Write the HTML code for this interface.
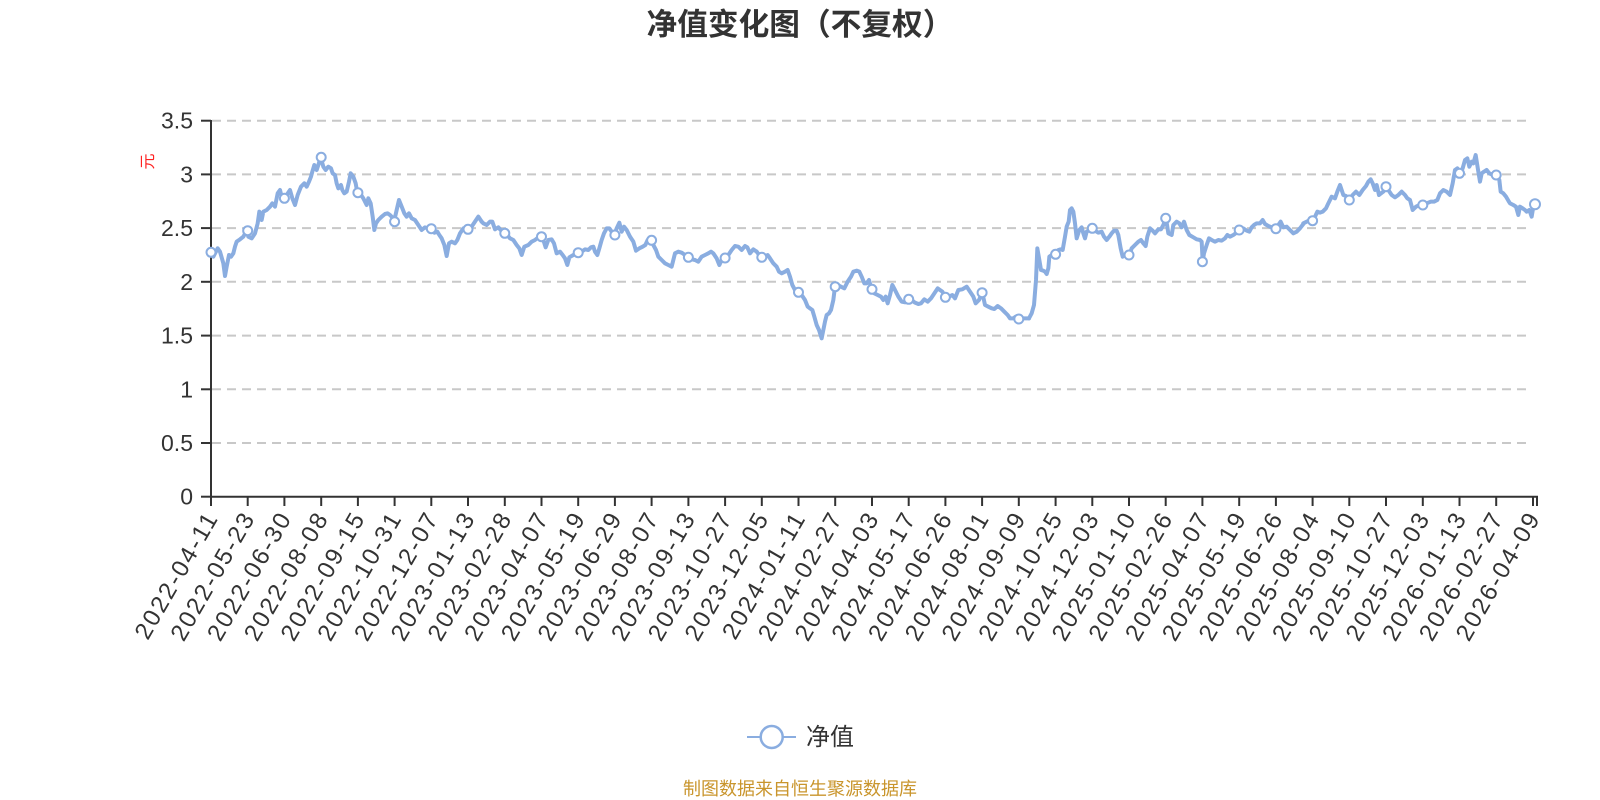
<!DOCTYPE html>
<html>
<head>
<meta charset="utf-8">
<style>
  html,body{margin:0;padding:0;background:#fff;}
  body{width:1600px;height:800px;overflow:hidden;}
  svg{display:block;}
  .cjk{font-family:"Liberation Sans","Noto Sans CJK SC",sans-serif;}
  .num{font-family:"Liberation Sans","Noto Sans CJK SC",sans-serif;font-size:22px;fill:#333;}
  .xl{font-family:"Liberation Sans","Noto Sans CJK SC",sans-serif;font-size:24px;fill:#333;letter-spacing:2.2px;}
  .ln{fill:none;stroke:#8aade0;stroke-width:12;stroke-linejoin:round;stroke-linecap:round;}
</style>
</head>
<body>
<svg width="1600" height="800" viewBox="0 0 1600 800" xmlns="http://www.w3.org/2000/svg">
  <rect width="1600" height="800" fill="#fff"/>
  <!-- Title -->
  <text x="800" y="35" text-anchor="middle" class="cjk" font-size="30.7" font-weight="bold" fill="#333">净值变化图（不复权）</text>

  <!-- grid lines -->
  <g stroke="#c8c8c8" stroke-width="2" stroke-dasharray="9 6">
    <line x1="212" y1="443.0" x2="1531" y2="443.0"/>
    <line x1="212" y1="389.3" x2="1531" y2="389.3"/>
    <line x1="212" y1="335.6" x2="1531" y2="335.6"/>
    <line x1="212" y1="281.8" x2="1531" y2="281.8"/>
    <line x1="212" y1="228.1" x2="1531" y2="228.1"/>
    <line x1="212" y1="174.4" x2="1531" y2="174.4"/>
    <line x1="212" y1="120.7" x2="1531" y2="120.7"/>
  </g>

  <!-- y axis -->
  <g stroke="#333" stroke-width="2">
    <line x1="211" y1="120" x2="211" y2="497.7"/>
    <line x1="201" y1="496.7" x2="211" y2="496.7"/>
    <line x1="201" y1="443.0" x2="211" y2="443.0"/>
    <line x1="201" y1="389.3" x2="211" y2="389.3"/>
    <line x1="201" y1="335.6" x2="211" y2="335.6"/>
    <line x1="201" y1="281.8" x2="211" y2="281.8"/>
    <line x1="201" y1="228.1" x2="211" y2="228.1"/>
    <line x1="201" y1="174.4" x2="211" y2="174.4"/>
    <line x1="201" y1="120.7" x2="211" y2="120.7"/>
  </g>
  <g class="num" text-anchor="end" style="font-size:23px">
    <text x="193" y="504.7">0</text>
    <text x="193" y="451.0">0.5</text>
    <text x="193" y="397.3">1</text>
    <text x="193" y="343.6">1.5</text>
    <text x="193" y="289.8">2</text>
    <text x="193" y="236.1">2.5</text>
    <text x="193" y="182.4">3</text>
    <text x="193" y="128.7">3.5</text>
  </g>
  <text transform="translate(148.5,161.5) rotate(-90)" text-anchor="middle" dominant-baseline="central" class="cjk" font-size="16" fill="#f22">元</text>

  <!-- x axis -->
  <line x1="210" y1="496.7" x2="1538" y2="496.7" stroke="#333" stroke-width="2"/>
  <g stroke="#333" stroke-width="2">
    <line x1="211.0" y1="496.7" x2="211.0" y2="506"/>
    <line x1="247.7" y1="496.7" x2="247.7" y2="506"/>
    <line x1="284.4" y1="496.7" x2="284.4" y2="506"/>
    <line x1="321.2" y1="496.7" x2="321.2" y2="506"/>
    <line x1="357.9" y1="496.7" x2="357.9" y2="506"/>
    <line x1="394.6" y1="496.7" x2="394.6" y2="506"/>
    <line x1="431.3" y1="496.7" x2="431.3" y2="506"/>
    <line x1="468.0" y1="496.7" x2="468.0" y2="506"/>
    <line x1="504.8" y1="496.7" x2="504.8" y2="506"/>
    <line x1="541.5" y1="496.7" x2="541.5" y2="506"/>
    <line x1="578.2" y1="496.7" x2="578.2" y2="506"/>
    <line x1="614.9" y1="496.7" x2="614.9" y2="506"/>
    <line x1="651.6" y1="496.7" x2="651.6" y2="506"/>
    <line x1="688.4" y1="496.7" x2="688.4" y2="506"/>
    <line x1="725.1" y1="496.7" x2="725.1" y2="506"/>
    <line x1="761.8" y1="496.7" x2="761.8" y2="506"/>
    <line x1="798.5" y1="496.7" x2="798.5" y2="506"/>
    <line x1="835.2" y1="496.7" x2="835.2" y2="506"/>
    <line x1="872.0" y1="496.7" x2="872.0" y2="506"/>
    <line x1="908.7" y1="496.7" x2="908.7" y2="506"/>
    <line x1="945.4" y1="496.7" x2="945.4" y2="506"/>
    <line x1="982.1" y1="496.7" x2="982.1" y2="506"/>
    <line x1="1018.8" y1="496.7" x2="1018.8" y2="506"/>
    <line x1="1055.6" y1="496.7" x2="1055.6" y2="506"/>
    <line x1="1092.3" y1="496.7" x2="1092.3" y2="506"/>
    <line x1="1129.0" y1="496.7" x2="1129.0" y2="506"/>
    <line x1="1165.7" y1="496.7" x2="1165.7" y2="506"/>
    <line x1="1202.4" y1="496.7" x2="1202.4" y2="506"/>
    <line x1="1239.2" y1="496.7" x2="1239.2" y2="506"/>
    <line x1="1275.9" y1="496.7" x2="1275.9" y2="506"/>
    <line x1="1312.6" y1="496.7" x2="1312.6" y2="506"/>
    <line x1="1349.3" y1="496.7" x2="1349.3" y2="506"/>
    <line x1="1386.0" y1="496.7" x2="1386.0" y2="506"/>
    <line x1="1422.8" y1="496.7" x2="1422.8" y2="506"/>
    <line x1="1459.5" y1="496.7" x2="1459.5" y2="506"/>
    <line x1="1496.2" y1="496.7" x2="1496.2" y2="506"/>
    <line x1="1533.0" y1="496.7" x2="1533.0" y2="506"/>
    <line x1="1537.0" y1="496.7" x2="1537.0" y2="506"/>
  </g>
  <g class="xl" text-anchor="end">
    <text transform="translate(212.0,513) rotate(-60)" dy="0.35em">2022-04-11</text>
    <text transform="translate(248.7,513) rotate(-60)" dy="0.35em">2022-05-23</text>
    <text transform="translate(285.4,513) rotate(-60)" dy="0.35em">2022-06-30</text>
    <text transform="translate(322.2,513) rotate(-60)" dy="0.35em">2022-08-08</text>
    <text transform="translate(358.9,513) rotate(-60)" dy="0.35em">2022-09-15</text>
    <text transform="translate(395.6,513) rotate(-60)" dy="0.35em">2022-10-31</text>
    <text transform="translate(432.3,513) rotate(-60)" dy="0.35em">2022-12-07</text>
    <text transform="translate(469.0,513) rotate(-60)" dy="0.35em">2023-01-13</text>
    <text transform="translate(505.8,513) rotate(-60)" dy="0.35em">2023-02-28</text>
    <text transform="translate(542.5,513) rotate(-60)" dy="0.35em">2023-04-07</text>
    <text transform="translate(579.2,513) rotate(-60)" dy="0.35em">2023-05-19</text>
    <text transform="translate(615.9,513) rotate(-60)" dy="0.35em">2023-06-29</text>
    <text transform="translate(652.6,513) rotate(-60)" dy="0.35em">2023-08-07</text>
    <text transform="translate(689.4,513) rotate(-60)" dy="0.35em">2023-09-13</text>
    <text transform="translate(726.1,513) rotate(-60)" dy="0.35em">2023-10-27</text>
    <text transform="translate(762.8,513) rotate(-60)" dy="0.35em">2023-12-05</text>
    <text transform="translate(799.5,513) rotate(-60)" dy="0.35em">2024-01-11</text>
    <text transform="translate(836.2,513) rotate(-60)" dy="0.35em">2024-02-27</text>
    <text transform="translate(873.0,513) rotate(-60)" dy="0.35em">2024-04-03</text>
    <text transform="translate(909.7,513) rotate(-60)" dy="0.35em">2024-05-17</text>
    <text transform="translate(946.4,513) rotate(-60)" dy="0.35em">2024-06-26</text>
    <text transform="translate(983.1,513) rotate(-60)" dy="0.35em">2024-08-01</text>
    <text transform="translate(1019.8,513) rotate(-60)" dy="0.35em">2024-09-09</text>
    <text transform="translate(1056.6,513) rotate(-60)" dy="0.35em">2024-10-25</text>
    <text transform="translate(1093.3,513) rotate(-60)" dy="0.35em">2024-12-03</text>
    <text transform="translate(1130.0,513) rotate(-60)" dy="0.35em">2025-01-10</text>
    <text transform="translate(1166.7,513) rotate(-60)" dy="0.35em">2025-02-26</text>
    <text transform="translate(1203.4,513) rotate(-60)" dy="0.35em">2025-04-07</text>
    <text transform="translate(1240.2,513) rotate(-60)" dy="0.35em">2025-05-19</text>
    <text transform="translate(1276.9,513) rotate(-60)" dy="0.35em">2025-06-26</text>
    <text transform="translate(1313.6,513) rotate(-60)" dy="0.35em">2025-08-04</text>
    <text transform="translate(1350.3,513) rotate(-60)" dy="0.35em">2025-09-10</text>
    <text transform="translate(1387.0,513) rotate(-60)" dy="0.35em">2025-10-27</text>
    <text transform="translate(1423.8,513) rotate(-60)" dy="0.35em">2025-12-03</text>
    <text transform="translate(1460.5,513) rotate(-60)" dy="0.35em">2026-01-13</text>
    <text transform="translate(1497.2,513) rotate(-60)" dy="0.35em">2026-02-27</text>
    <text transform="translate(1534.0,513) rotate(-60)" dy="0.35em">2026-04-09</text>
  </g>

  <!-- series line -->
  <g transform="translate(205,140) scale(0.333333)">
    <polyline class="ln" points="15,337 25,350 38,325 45,335 55,370 60,408 65,380 72,345 78,350 85,340 90,320 95,305 105,298 115,290 125,272 130,290 140,295 150,280 158,250 163,215 170,240 175,215 185,210 195,200 202,190 210,200 218,160 225,150 232,178 237,175 245,165 255,150 262,175 270,195 278,165 288,140 298,130 305,140 312,125 318,110 322,95 328,75 335,90 340,75 347,52 355,80 362,90 370,80 378,85 383,100 390,105 395,130 400,145 408,135 412,150 418,160 425,155 432,125 437,100 445,110 452,130 457,158 465,160 475,175 485,195 490,175 497,190 503,230 508,270 513,250 520,240 530,230 540,222 548,220 555,225 560,230 567,245 575,210 582,180 590,200 598,220 605,230 612,220 620,235 630,240 640,255 650,270 660,262 668,265 678,266 688,278 697,275 703,285 710,295 718,315 725,348 732,310 740,305 750,310 757,300 765,280 775,265 788,268 800,260 810,245 820,230 830,245"/>
  </g>
  <g transform="translate(480,140) scale(0.333333)">
    <polyline class="ln" points="5,245 10,250 20,255 30,245 37,245 45,268 55,262 62,270 72,280 82,285 90,295 100,300 110,315 118,325 125,345 133,320 145,315 155,305 165,300 175,292 183,290 190,300 197,322 205,300 215,298 222,310 230,340 240,335 248,345 255,355 262,375 268,352 280,345 293,338 305,335 315,328 325,330 333,322 340,320 345,335 352,345 358,325 365,300 372,280 380,265 388,265 395,275 403,285 410,265 418,248 425,275 432,260 440,270 450,290 460,305 468,332 478,325 488,320 496,315 503,300 513,301 520,315 528,330 535,350 545,360 555,370 565,375 575,380 580,360 585,340 595,335 605,338 615,345 625,352 635,358 645,360 655,365 665,350 675,345 685,340 693,335 700,340 710,355 718,375 725,360 735,354 745,345 755,330 765,318 775,320 785,330 795,318 802,322 810,340 820,328 830,335"/>
  </g>
  <g transform="translate(755,140) scale(0.333333)">
    <polyline class="ln" points="5,335 18,352 28,350 38,345 45,355 55,370 65,380 72,395 80,400 90,395 98,390 105,410 112,435 120,450 130,457 140,465 150,480 158,500 165,505 172,510 178,530 185,555 192,570 200,595 205,570 210,545 215,525 222,520 228,510 235,480 240,440 248,435 258,440 268,445 278,425 288,410 295,395 305,392 313,395 320,410 328,430 335,430 342,420 350,448 358,460 368,465 378,470 385,480 392,470 398,490 405,465 412,435 420,450 430,470 440,485 450,487 460,478 470,480 480,488 490,492 498,490 508,478 518,485 528,475 538,460 548,445 555,450 562,455 572,472 582,470 592,465 600,475 610,450 622,448 635,440 645,455 655,470 662,490 672,480 682,458 690,495 700,500 710,505 718,507 728,498 738,505 748,515 758,525 765,535 775,535 782,530 792,537 802,535 812,535 822,535"/>
  </g>
  <g transform="translate(1030,140) scale(0.333333)">
    <polyline class="ln" points="-3,535 5,520 12,495 18,420 22,325 28,360 33,390 40,392 45,395 50,402 55,385 58,350 65,345 78,342 85,330 92,328 98,330 105,290 110,260 116,245 120,210 125,205 130,215 135,250 140,295 148,270 155,262 160,280 165,295 170,275 178,270 186,265 195,272 205,278 215,275 222,290 230,300 238,290 245,280 252,272 260,272 265,285 272,325 278,350 285,345 292,345 298,345 305,325 315,315 325,305 333,300 340,310 347,318 352,290 360,265 368,272 375,280 385,268 393,268 400,255 408,235 415,280 425,285 430,255 440,245 448,250 455,262 462,245 470,270 478,285 490,292 500,298 510,300 515,305 518,365 522,340 530,315 537,295 545,300 555,305 565,300 575,302 585,295 592,285 600,290 610,285 620,278 628,270 640,265 650,272 658,275 665,262 672,255 680,250 690,250 698,240 705,252 715,258 725,262 738,266 745,255 752,245 760,262 770,260 780,270 790,280 800,275 810,265 820,252"/>
  </g>
  <g transform="translate(1300,140) scale(0.333333)">
    <polyline class="ln" points="10,250 20,245 30,240 38,242 45,230 52,215 60,218 68,215 78,205 85,190 95,170 105,175 112,155 120,135 125,150 130,165 138,168 148,180 158,165 168,155 178,165 188,150 198,138 205,125 212,118 218,130 225,150 230,135 237,165 243,160 250,155 258,140 265,150 275,165 285,172 295,165 305,155 315,165 322,175 330,180 338,210 348,200 358,195 370,195 380,190 392,185 402,185 412,180 420,160 430,150 440,155 450,165 458,130 465,90 472,85 480,100 488,85 495,60 502,55 508,80 515,65 520,70 527,45 535,95 540,125 545,100 552,95 560,90 568,100 578,105 590,105 598,120 602,155 610,160 618,170 625,182 630,190 640,195 648,200 655,225 660,200 668,205 675,210 680,215 688,210 695,230 700,200 705,193"/>
  </g>

  <!-- markers -->
  <g fill="#fff" stroke="#8aade0" stroke-width="2">
    <circle cx="211.0" cy="252.3" r="4.5"/>
    <circle cx="247.7" cy="230.7" r="4.5"/>
    <circle cx="284.4" cy="198.3" r="4.5"/>
    <circle cx="321.2" cy="157.3" r="4.5"/>
    <circle cx="357.9" cy="192.7" r="4.5"/>
    <circle cx="394.6" cy="221.7" r="4.5"/>
    <circle cx="431.3" cy="228.7" r="4.5"/>
    <circle cx="468.0" cy="229.3" r="4.5"/>
    <circle cx="504.8" cy="233.3" r="4.5"/>
    <circle cx="541.5" cy="236.7" r="4.5"/>
    <circle cx="578.2" cy="252.7" r="4.5"/>
    <circle cx="614.9" cy="235.0" r="4.5"/>
    <circle cx="651.6" cy="240.3" r="4.5"/>
    <circle cx="688.4" cy="257.3" r="4.5"/>
    <circle cx="725.1" cy="258.0" r="4.5"/>
    <circle cx="761.8" cy="257.3" r="4.5"/>
    <circle cx="798.5" cy="292.3" r="4.5"/>
    <circle cx="835.2" cy="286.7" r="4.5"/>
    <circle cx="872.0" cy="289.3" r="4.5"/>
    <circle cx="908.7" cy="299.3" r="4.5"/>
    <circle cx="945.4" cy="297.3" r="4.5"/>
    <circle cx="982.1" cy="292.7" r="4.5"/>
    <circle cx="1018.8" cy="319.0" r="4.5"/>
    <circle cx="1055.6" cy="254.3" r="4.5"/>
    <circle cx="1092.3" cy="228.3" r="4.5"/>
    <circle cx="1129.0" cy="255.0" r="4.5"/>
    <circle cx="1165.7" cy="218.3" r="4.5"/>
    <circle cx="1202.4" cy="261.7" r="4.5"/>
    <circle cx="1239.2" cy="230.0" r="4.5"/>
    <circle cx="1275.9" cy="228.7" r="4.5"/>
    <circle cx="1312.6" cy="220.7" r="4.5"/>
    <circle cx="1349.3" cy="200.0" r="4.5"/>
    <circle cx="1386.0" cy="186.7" r="4.5"/>
    <circle cx="1422.8" cy="205.0" r="4.5"/>
    <circle cx="1459.5" cy="173.3" r="4.5"/>
    <circle cx="1496.2" cy="175.0" r="4.5"/>
    <circle cx="1535.0" cy="204.3" r="5"/>
  </g>

  <!-- legend -->
  <line x1="747" y1="737" x2="796" y2="737" stroke="#8aade0" stroke-width="2"/>
  <circle cx="771.7" cy="737" r="11" fill="#fff" stroke="#8aade0" stroke-width="2.5"/>
  <text x="806" y="745" class="cjk" font-size="24" fill="#333">净值</text>

  <!-- footer -->
  <text x="800" y="795" text-anchor="middle" class="cjk" font-size="18" fill="#c9952c">制图数据来自恒生聚源数据库</text>
</svg>
</body>
</html>
